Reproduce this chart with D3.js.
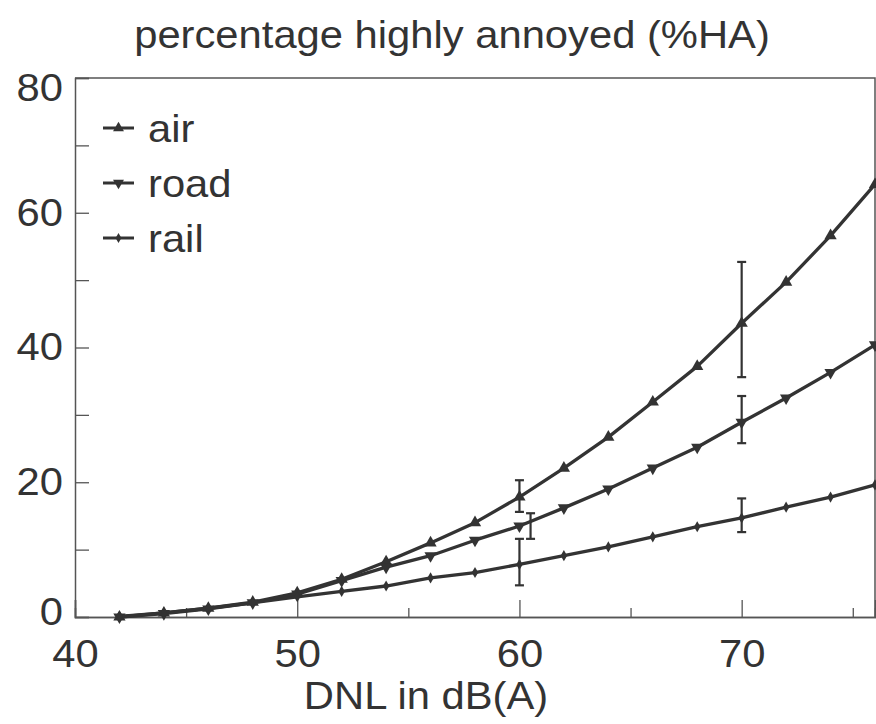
<!DOCTYPE html>
<html>
<head>
<meta charset="utf-8">
<script src="https://d3js.org/d3.v7.min.js"></script>
<style>
  body { margin: 0; background: #fff; }
  text { font-family: "Liberation Sans", Arial, Helvetica, sans-serif; fill: #333; }
</style>
</head>
<body>
<svg id="chart"></svg>
<script>
// values
var dnl  = [42, 44, 46, 48, 50, 52, 54, 56, 58, 60, 62, 64, 66, 68, 70, 72, 74, 76];
var air  = [0.0, 0.6, 1.3, 2.2, 3.6, 5.6, 8.2, 11.0, 14.0, 17.8, 22.1, 26.7, 31.9, 37.2, 43.6, 49.7, 56.6, 64.2];
var road = [0.0, 0.5, 1.2, 2.1, 3.4, 5.4, 7.4, 9.1, 11.4, 13.5, 16.2, 19.0, 22.1, 25.2, 28.9, 32.5, 36.3, 40.4];
var rail = [0.1, 0.6, 1.3, 2.1, 3.0, 3.8, 4.6, 5.8, 6.6, 7.8, 9.1, 10.4, 11.9, 13.4, 14.7, 16.3, 17.8, 19.6];

// error bars: [dnl, low, high]
var airErr  = [[60, 15.6, 20.3], [70, 35.6, 52.7]];
var roadErr = [[60.5, 11.6, 15.4], [70, 25.8, 32.8]];
var railErr = [[60, 4.7, 11.6], [70, 12.6, 17.6]];

var seriesNames = ["air", "road", "rail"];
var xMajor = [40, 50, 60, 70];
var xMinor = [45, 55, 65, 75];
var yTicks = [0, 10, 20, 30, 40, 50, 60, 70, 80];
var yLabels = [0, 20, 40, 60, 80];

var W = 876, H = 724;
var ink = "#333";
var fs = 39;
var stretch = 1.07;   // reference glyphs are a bit wider than Arial

var svg = d3.select("#chart").attr("width", W).attr("height", H);

var x = d3.scaleLinear().domain([40, 76]).range([75, 875]);
var y = d3.scaleLinear().domain([0, 80]).range([617, 78]);

// frame
svg.append("path")
    .attr("d", "M" + x(40) + "," + y(80) + "H" + x(76) + "V" + y(0))
    .attr("fill", "none").attr("stroke", "#555").attr("stroke-width", 1.5);

// y axis, ticks pointing inwards
var gy = svg.append("g").attr("transform", "translate(" + x(40) + ",0)")
    .call(d3.axisLeft(y).tickValues(yTicks).tickSize(-14).tickPadding(12)
        .tickFormat(function (d) { return yLabels.indexOf(d) >= 0 ? d : ""; }));

// x axis: major with labels, minor without
var gx = svg.append("g").attr("transform", "translate(0," + y(0) + ")")
    .call(d3.axisBottom(x).tickValues(xMajor).tickSize(-17).tickPadding(22));
var gxm = svg.append("g").attr("transform", "translate(0," + y(0) + ")")
    .call(d3.axisBottom(x).tickValues(xMinor).tickSize(-9).tickFormat(""));

[gy, gx, gxm].forEach(function (g) {
    g.select(".domain").attr("stroke", "#555").attr("stroke-width", 1.5);
    g.selectAll(".tick line").attr("stroke", "#555").attr("stroke-width", 1.3);
    g.selectAll(".tick text").attr("font-size", fs).attr("fill", ink).classed("stretch", true);
});
// the 80 and 0 labels sit a bit inside the frame in the reference
gy.selectAll(".tick text").filter(function (d) { return d === 80; }).attr("dy", "0.58em");
gy.selectAll(".tick text").filter(function (d) { return d === 0; }).attr("dy", "0.18em");

var line = d3.line()
    .x(function (d) { return x(d[0]); })
    .y(function (d) { return y(d[1]); });

var series = [
    { name: "air",  vals: air,  err: airErr,  sym: d3.symbolTriangle, rot: 0,   size: 65 },
    { name: "road", vals: road, err: roadErr, sym: d3.symbolTriangle, rot: 180, size: 65 },
    { name: "rail", vals: rail, err: railErr, sym: d3.symbolDiamond,  rot: 0,   size: 36 }
];

series.forEach(function (s) {
    var pts = dnl.map(function (v, i) { return [v, s.vals[i]]; });
    svg.append("path").datum(pts)
        .attr("d", line)
        .attr("fill", "none").attr("stroke", ink).attr("stroke-width", 3.3)
        .attr("stroke-linejoin", "round");

    svg.append("g").selectAll("path").data(pts).join("path")
        .attr("d", d3.symbol().type(s.sym).size(s.size))
        .attr("transform", function (d) {
            return "translate(" + x(d[0]) + "," + y(d[1]) + ") rotate(" + s.rot + ")";
        })
        .attr("fill", ink);

    var eb = svg.append("g").attr("stroke", ink).attr("stroke-width", 2.2).selectAll("g")
        .data(s.err).join("g");
    eb.append("line")
        .attr("x1", function (d) { return x(d[0]); }).attr("x2", function (d) { return x(d[0]); })
        .attr("y1", function (d) { return y(d[1]); }).attr("y2", function (d) { return y(d[2]); });
    eb.append("line")
        .attr("x1", function (d) { return x(d[0]) - 4.5; }).attr("x2", function (d) { return x(d[0]) + 4.5; })
        .attr("y1", function (d) { return y(d[1]); }).attr("y2", function (d) { return y(d[1]); });
    eb.append("line")
        .attr("x1", function (d) { return x(d[0]) - 4.5; }).attr("x2", function (d) { return x(d[0]) + 4.5; })
        .attr("y1", function (d) { return y(d[2]); }).attr("y2", function (d) { return y(d[2]); });
});

// legend
var leg = svg.append("g").selectAll("g").data(series).join("g")
    .attr("transform", function (d, i) { return "translate(103," + (128 + i * 55) + ")"; });
leg.append("line").attr("x1", 0).attr("x2", 31)
    .attr("stroke", ink).attr("stroke-width", 3);
leg.append("path")
    .attr("d", function (d) { return d3.symbol().type(d.sym).size(d.size * 0.8)(); })
    .attr("transform", function (d) { return "translate(15.5,0) rotate(" + d.rot + ")"; })
    .attr("fill", ink);
leg.append("text").attr("x", 45).attr("y", 14)
    .attr("font-size", fs).classed("stretch", true)
    .text(function (d, i) { return seriesNames[i]; });

// title and axis label
svg.append("text").attr("x", 452).attr("y", 48).attr("text-anchor", "middle")
    .attr("font-size", fs).classed("stretch", true)
    .text("percentage highly annoyed (%HA)");
svg.append("text").attr("x", 426).attr("y", 709).attr("text-anchor", "middle")
    .attr("font-size", fs).classed("stretch", true)
    .text("DNL in dB(A)");

// widen glyphs to match the reference lettering
svg.selectAll("text.stretch").each(function () {
    var t = d3.select(this);
    if (!t.text()) return;
    var len = this.getComputedTextLength();
    t.attr("textLength", len * stretch).attr("lengthAdjust", "spacingAndGlyphs");
});
</script>
</body>
</html>
